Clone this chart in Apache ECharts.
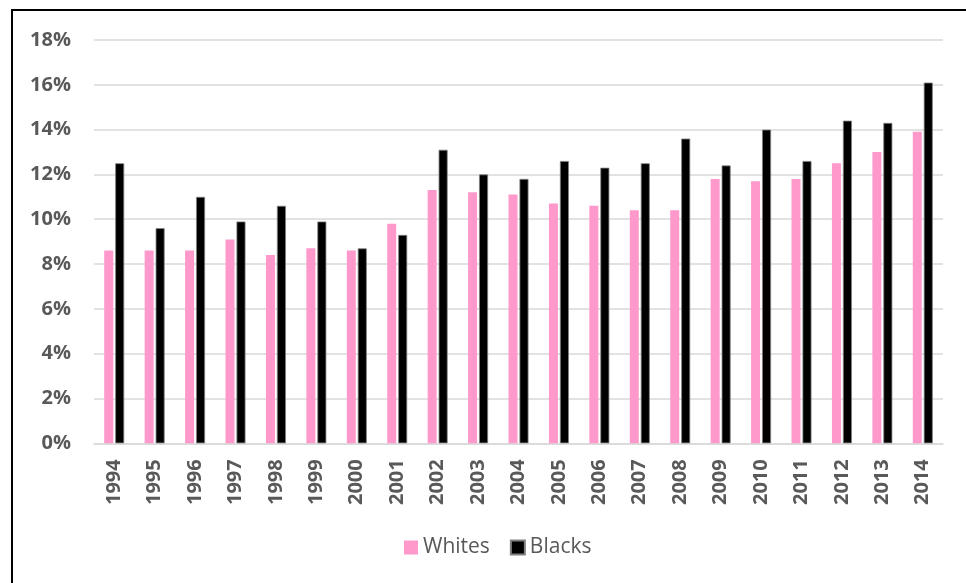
<!DOCTYPE html>
<html>
<head>
<meta charset="utf-8">
<script src="https://cdn.jsdelivr.net/npm/echarts@6/dist/echarts.min.js"></script>
<style>
  html, body { margin: 0; padding: 0; background: #fff; }
  #chart { width: 966px; height: 583px; }
</style>
</head>
<body>
<div id="chart"></div>
<script>
const years = ['1994', '1995', '1996', '1997', '1998', '1999', '2000', '2001', '2002', '2003', '2004',
  '2005', '2006', '2007', '2008', '2009', '2010', '2011', '2012', '2013', '2014']
const whites = [8.6, 8.6, 8.6, 9.1, 8.4, 8.7, 8.6, 9.8, 11.3, 11.2, 11.1, 10.7, 10.6, 10.4, 10.4, 11.8, 11.7, 11.8, 12.5, 13.0, 13.9]
const blacks = [12.5, 9.6, 11.0, 9.9, 10.6, 9.9, 8.7, 9.3, 13.1, 12.0, 11.8, 12.6, 12.3, 12.5, 13.6, 12.4, 14.0, 12.6, 14.4, 14.3, 16.1]

const font = 'Open Sans'
const chart = echarts.init(document.getElementById('chart'))

chart.setOption({
  animation: false,
  backgroundColor: '#fff',
  graphic: [{
    type: 'rect', silent: true,
    shape: { x: 12, y: 10, width: 1200, height: 1000 },
    style: { fill: 'none', stroke: '#000', lineWidth: 2 }
  }],
  legend: {
    bottom: 20, left: 399, itemWidth: 14, itemHeight: 14, itemGap: 20,
    icon: 'rect',
    textStyle: { color: '#595959', fontSize: 21, fontFamily: font },
    data: ['Whites', 'Blacks']
  },
  grid: { left: 94, right: 23, top: 40, bottom: 139.7 },
  xAxis: {
    type: 'category', data: years,
    axisLine: { lineStyle: { color: '#d9d9d9', width: 1.5 } },
    axisTick: { show: false },
    axisLabel: { rotate: 90, margin: 16, color: '#595959', fontSize: 20, fontWeight: 'bold', fontFamily: font }
  },
  yAxis: {
    type: 'value', min: 0, max: 18, interval: 2,
    axisLine: { show: false }, axisTick: { show: false },
    axisLabel: { margin: 23, color: '#595959', fontSize: 20, fontWeight: 'bold', fontFamily: font, formatter: v => v + '%' },
    splitLine: { lineStyle: { color: '#d9d9d9', width: 1.5 } }
  },
  series: [
    { name: 'Whites', type: 'bar', data: whites, barWidth: 9, barGap: '22%',
      itemStyle: { color: '#ff99cc' } },
    { name: 'Blacks', type: 'bar', data: blacks, barWidth: 9,
      itemStyle: { color: '#000', borderColor: '#808080', borderWidth: 0.8 } }
  ]
})
</script>
</body>
</html>
